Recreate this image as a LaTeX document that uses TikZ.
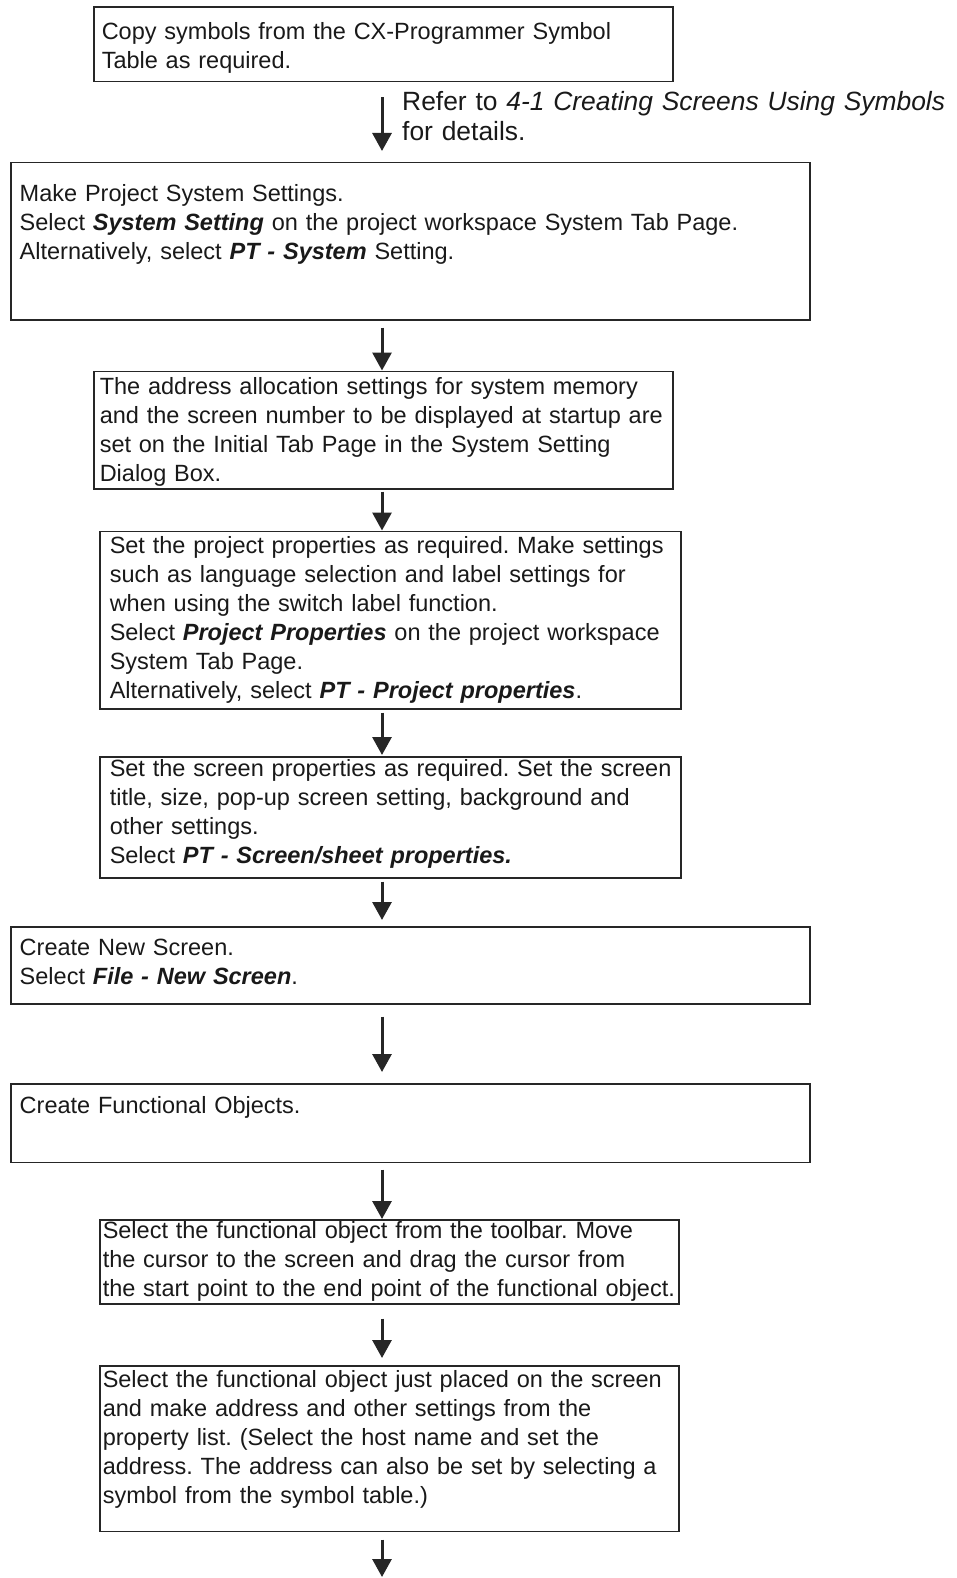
\documentclass[tikz,border=0pt]{standalone}
\usepackage{fontspec}
\setmainfont{Liberation Sans}
\usetikzlibrary{arrows.meta}
\frenchspacing
\hyphenpenalty=10000
\tikzset{
  stepbox/.style={draw=black!85, line width=1.5pt, anchor=north west, align=left,
    inner sep=0pt, text=black!90, font=\fontsize{23.5}{29}\selectfont},
  flow/.style={draw=black!85, line width=3pt, -{Triangle[width=19pt,length=18pt]}}
}
\newcommand{\bitext}[1]{\textbf{\textit{#1}}}
\newcommand{\steptext}[2]{\leftskip=#1\relax #2\par}
\begin{document}
\begin{tikzpicture}[x=1pt,y=-1pt]
\useasboundingbox (0,0) rectangle (956,1578);
\coordinate (ax) at (382,0);
\draw (93,6.5) node[stepbox, text width=579pt, text height=32pt, text depth=42.5pt](CS){\steptext{8pt}{Copy symbols from the CX-Programmer Symbol\\Table as required.}}
(402,111) node[anchor=base west, align=left, text width=552pt, inner sep=0pt, text=black!90, font=\fontsize{26.4}{30}\selectfont](RF){Refer to \textit{4-1 Creating Screens Using Symbols}\\for details.}
(10,162) node[stepbox, text width=799pt, text height=39pt, text depth=118pt](PS){\steptext{9pt}{Make Project System Settings.\\Select \bitext{System Setting} on the project workspace System Tab Page.\\Alternatively, select \bitext{PT - System} Setting.}}
(93,370.5) node[stepbox, text width=579pt, text height=23pt, text depth=94.5pt](AA){\steptext{6pt}{The address allocation settings for system memory\\and the screen number to be displayed at startup are\\set on the Initial Tab Page in the System Setting\\Dialog Box.}};
\draw (99,530.5) node[stepbox, text width=581pt, text height=22pt, text depth=155.5pt](PP){\steptext{10pt}{Set the project properties as required. Make settings\\such as language selection and label settings for\\when using the switch label function.\\Select \bitext{Project Properties} on the project workspace\\System Tab Page.\\Alternatively, select \bitext{PT - Project properties}.}}
(99,756) node[stepbox, text width=581pt, text height=20pt, text depth=101pt](SP){\steptext{10pt}{Set the screen properties as required. Set the screen\\title, size, pop-up screen setting, background and\\other settings.\\Select \bitext{PT - Screen/sheet properties.}}}
(10,926) node[stepbox, text width=799pt, text height=29pt, text depth=48pt](NS){\steptext{9pt}{Create New Screen.\\Select \bitext{File - New Screen}.}}
(10,1083) node[stepbox, text width=799pt, text height=30pt, text depth=48.5pt](FO){\steptext{9pt}{Create Functional Objects.}};
\draw (99,1219) node[stepbox, text width=579pt, text height=19pt, text depth=65pt](SO){\steptext{3pt}{Select the functional object from the toolbar. Move\\the cursor to the screen and drag the cursor from\\the start point to the end point of the functional object.}}
(99,1365) node[stepbox, text width=579pt, text height=22pt, text depth=143.5pt](MA){\steptext{3pt}{Select the functional object just placed on the screen\\and make address and other settings from the\\property list. (Select the host name and set the\\address. The address can also be set by selecting a\\symbol from the symbol table.)}};
\coordinate (E) at (382,1578);
\draw [flow, shorten <=15pt, shorten >=11pt] (CS.south -| ax)--(PS.north -| ax);
\draw [flow, shorten <=7pt] (PS.south -| ax)--(AA.north -| ax);
\draw [flow, shorten <=2pt] (AA.south -| ax)--(PP.north -| ax);
\draw [flow, shorten <=3pt, shorten >=1pt] (PP.south -| ax)--(SP.north -| ax);
\draw [flow, shorten <=3pt, shorten >=6pt] (SP.south -| ax)--(NS.north -| ax);
\draw [flow, shorten <=12pt, shorten >=11pt] (NS.south -| ax)--(FO.north -| ax);
\draw [flow, shorten <=6.5pt] (FO.south -| ax)--(SO.north -| ax);
\draw [flow, shorten <=14pt, shorten >=7pt] (SO.south -| ax)--(MA.north -| ax);
\draw [flow, shorten <=7.5pt, shorten >=1pt] (MA.south -| ax)--(E);
\end{tikzpicture}
\end{document}
